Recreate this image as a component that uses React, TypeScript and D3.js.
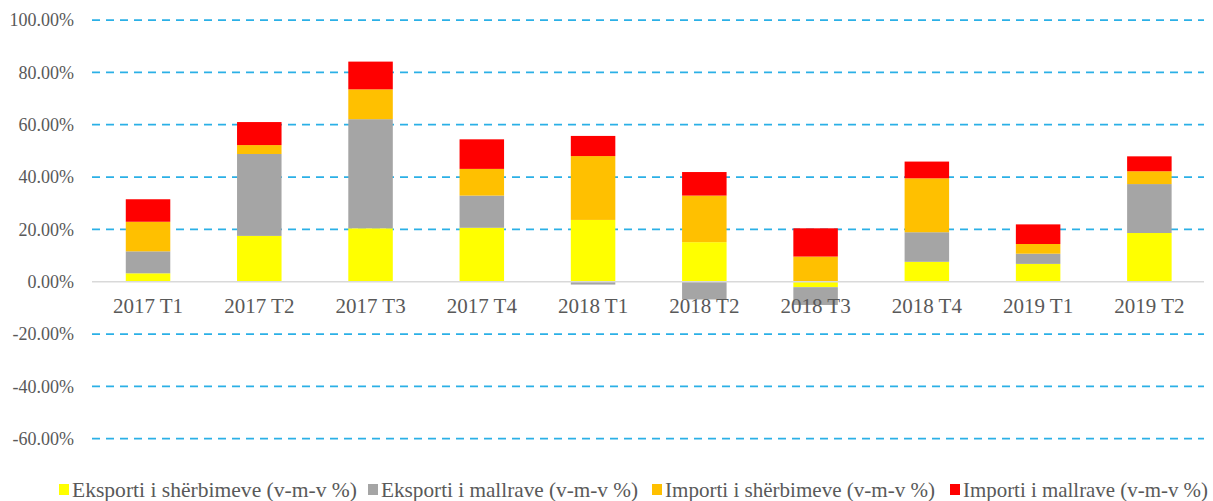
import * as d3 from 'd3'

const WIDTH = 1213
const HEIGHT = 501

const quarters = ['2017 T1', '2017 T2', '2017 T3', '2017 T4', '2018 T1', '2018 T2', '2018 T3', '2018 T4', '2019 T1', '2019 T2']

// y-o-y growth, %
const eksportiSherbimeve = [3.2, 17.5, 20.4, 20.6, 23.6, 15.1, -2.1, 7.6, 6.8, 18.6]
const eksportiMallrave = [8.4, 31.3, 41.7, 12.3, -1.1, -6.8, -6.8, 11.3, 3.9, 18.7]
const importiSherbimeve = [11.3, 3.4, 11.4, 10.2, 24.4, 17.8, 9.6, 20.6, 3.7, 4.9]
const importiMallrave = [8.6, 8.8, 10.6, 11.3, 7.7, 9.0, 10.8, 6.4, 7.5, 5.7]

const seriesNames = [
  'Eksporti i shërbimeve (v-m-v %)',
  'Eksporti i mallrave (v-m-v %)',
  'Importi i shërbimeve (v-m-v %)',
  'Importi i mallrave (v-m-v %)',
]
const seriesColors = ['#FFFF00', '#A5A5A5', '#FFC000', '#FF0000']
const yTicks = [100, 80, 60, 40, 20, 0, -20, -40, -60]

const keys = ['ys', 'ym', 'is', 'im']
const FONT = '"Liberation Serif", "Times New Roman", serif'
const TEXT = '#595959'

// legend item starts and text widths, as laid out in the original
const legendX = [58, 367, 651, 949]
const legendW = [285, 257, 270, 245]

export default function App() {
  const rows = quarters.map((q, i) => ({
    q,
    ys: eksportiSherbimeve[i],
    ym: eksportiMallrave[i],
    is: importiSherbimeve[i],
    im: importiMallrave[i],
  }))

  const stacked = d3.stack().keys(keys).offset(d3.stackOffsetDiverging)(rows as any)

  const x = d3.scaleBand().domain(quarters).range([92.4, 1205]).paddingInner(0.6).paddingOuter(0.3)
  const y = d3.scaleLinear().domain([-60, 100]).range([438.7, 20])

  return (
    <svg width={WIDTH} height={HEIGHT} style={{ position: 'absolute', left: 0, top: 0 }} fontFamily={FONT}>
      <rect width={WIDTH} height={HEIGHT} fill="#fff" />
      {yTicks.map((t) => (
        <g key={t}>
          {t !== 0 && (
            <line x1={92} x2={1204} y1={y(t)} y2={y(t)} stroke="#2BB0E6" strokeWidth={1.75} strokeDasharray="8,6" />
          )}
          <text x={74} y={y(t)} dy="0.35em" textAnchor="end" fontSize={18} fill={TEXT}>
            {`${t.toFixed(2)}%`}
          </text>
        </g>
      ))}
      {stacked.map((s, si) => (
        <g key={s.key} fill={seriesColors[si]}>
          {s.map((d, i) => (
            <rect
              key={i}
              x={x(quarters[i])}
              width={x.bandwidth()}
              y={y(Math.max(d[0], d[1]))}
              height={Math.abs(y(d[0]) - y(d[1]))}
            />
          ))}
        </g>
      ))}
      <line x1={92} x2={1204} y1={y(0)} y2={y(0)} stroke="#D9D9D9" strokeWidth={1.5} />
      {quarters.map((q) => (
        <text key={q} x={(x(q) ?? 0) + x.bandwidth() / 2} y={313} textAnchor="middle" fontSize={21} fill={TEXT}>
          {q}
        </text>
      ))}
      {seriesNames.map((n, i) => (
        <g key={n} transform={`translate(${legendX[i]},0)`}>
          <rect x={1} y={484} width={10} height={11} fill={seriesColors[i]} />
          <text x={14} y={497} fontSize={21} fill={TEXT} textLength={legendW[i]} lengthAdjust="spacingAndGlyphs">
            {n}
          </text>
        </g>
      ))}
    </svg>
  )
}
